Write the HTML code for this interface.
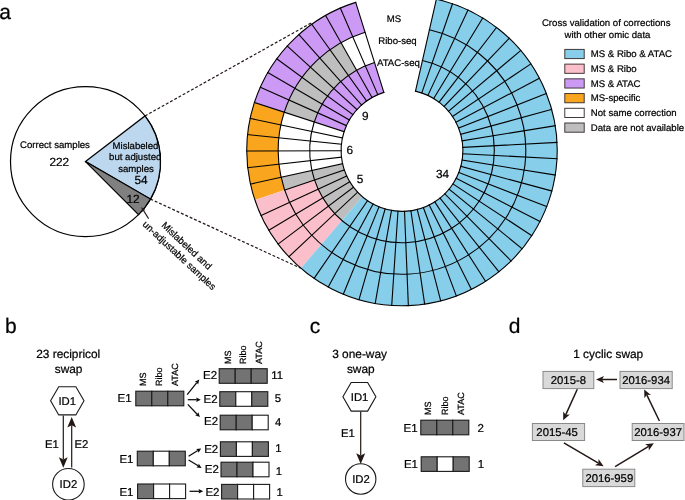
<!DOCTYPE html><html><head><meta charset="utf-8"><title>figure</title><style>html,body{margin:0;padding:0;background:#fff}svg{display:block}text{font-family:"Liberation Sans",Arial,sans-serif;fill:#000;stroke:#000;stroke-width:0.22px;text-rendering:geometricPrecision}</style></head><body>
<svg width="685" height="500" viewBox="0 0 685 500">
<rect width="685" height="500" fill="#fff"/>
<g font-size="21">
<text x="-0.8" y="19.3">a</text><text x="5.0" y="333.3">b</text><text x="309.8" y="333">c</text><text x="508.8" y="333">d</text>
</g>
<g stroke="#231815" stroke-width="1.2" stroke-dasharray="2.9 1.9" fill="none"><line x1="145.00" y1="115.94" x2="311.50" y2="22.80"/><line x1="150.45" y1="199.10" x2="300.89" y2="268.24"/></g>
<g stroke="#000" stroke-width="1.2"><circle cx="85.50" cy="161.60" r="75.00" fill="#fff"/><path d="M85.50 161.60L145.00 115.94A75.00 75.00 0 0 1 150.45 199.10Z" fill="#BDD7EE"/><path d="M85.50 161.60L150.45 199.10A75.00 75.00 0 0 1 138.53 214.63Z" fill="#808080"/></g>
<g stroke="none"><path d="M383.84 92.37L374.48 62.40A92.30 92.30 0 0 0 365.31 65.80L377.79 94.62A60.90 60.90 0 0 1 383.84 92.37Z" fill="#CC99F5"/><path d="M374.48 62.40L365.08 32.33A123.80 123.80 0 0 0 352.79 36.90L365.31 65.80A92.30 92.30 0 0 1 374.48 62.40Z" fill="#FFFFFF"/><path d="M365.08 32.33L355.72 2.36A155.20 155.20 0 0 0 340.31 8.09L352.79 36.90A123.80 123.80 0 0 1 365.08 32.33Z" fill="#CC99F5"/><path d="M377.79 94.62L365.31 65.80A92.30 92.30 0 0 0 356.56 70.16L372.02 97.49A60.90 60.90 0 0 1 377.79 94.62Z" fill="#CC99F5"/><path d="M365.31 65.80L352.79 36.90A123.80 123.80 0 0 0 341.05 42.74L356.56 70.16A92.30 92.30 0 0 1 365.31 65.80Z" fill="#FFFFFF"/><path d="M352.79 36.90L340.31 8.09A155.20 155.20 0 0 0 325.60 15.41L341.05 42.74A123.80 123.80 0 0 1 352.79 36.90Z" fill="#CC99F5"/><path d="M372.02 97.49L356.56 70.16A92.30 92.30 0 0 0 348.32 75.42L366.58 100.96A60.90 60.90 0 0 1 372.02 97.49Z" fill="#CC99F5"/><path d="M356.56 70.16L341.05 42.74A123.80 123.80 0 0 0 330.00 49.79L348.32 75.42A92.30 92.30 0 0 1 356.56 70.16Z" fill="#BEBEBE"/><path d="M341.05 42.74L325.60 15.41A155.20 155.20 0 0 0 311.74 24.25L330.00 49.79A123.80 123.80 0 0 1 341.05 42.74Z" fill="#CC99F5"/><path d="M366.58 100.96L348.32 75.42A92.30 92.30 0 0 0 340.68 81.51L361.54 104.98A60.90 60.90 0 0 1 366.58 100.96Z" fill="#CC99F5"/><path d="M348.32 75.42L330.00 49.79A123.80 123.80 0 0 0 319.75 57.97L340.68 81.51A92.30 92.30 0 0 1 348.32 75.42Z" fill="#BEBEBE"/><path d="M330.00 49.79L311.74 24.25A155.20 155.20 0 0 0 298.89 34.50L319.75 57.97A123.80 123.80 0 0 1 330.00 49.79Z" fill="#CC99F5"/><path d="M361.54 104.98L340.68 81.51A92.30 92.30 0 0 0 333.73 88.39L356.95 109.52A60.90 60.90 0 0 1 361.54 104.98Z" fill="#CC99F5"/><path d="M340.68 81.51L319.75 57.97A123.80 123.80 0 0 0 310.43 67.19L333.73 88.39A92.30 92.30 0 0 1 340.68 81.51Z" fill="#BEBEBE"/><path d="M319.75 57.97L298.89 34.50A155.20 155.20 0 0 0 287.20 46.06L310.43 67.19A123.80 123.80 0 0 1 319.75 57.97Z" fill="#CC99F5"/><path d="M356.95 109.52L333.73 88.39A92.30 92.30 0 0 0 327.54 95.95L352.87 114.51A60.90 60.90 0 0 1 356.95 109.52Z" fill="#CC99F5"/><path d="M333.73 88.39L310.43 67.19A123.80 123.80 0 0 0 302.13 77.34L327.54 95.95A92.30 92.30 0 0 1 333.73 88.39Z" fill="#BEBEBE"/><path d="M310.43 67.19L287.20 46.06A155.20 155.20 0 0 0 276.80 58.78L302.13 77.34A123.80 123.80 0 0 1 310.43 67.19Z" fill="#CC99F5"/><path d="M352.87 114.51L327.54 95.95A92.30 92.30 0 0 0 322.19 104.14L349.34 119.91A60.90 60.90 0 0 1 352.87 114.51Z" fill="#CC99F5"/><path d="M327.54 95.95L302.13 77.34A123.80 123.80 0 0 0 294.95 88.31L322.19 104.14A92.30 92.30 0 0 1 327.54 95.95Z" fill="#BEBEBE"/><path d="M302.13 77.34L276.80 58.78A155.20 155.20 0 0 0 267.80 72.54L294.95 88.31A123.80 123.80 0 0 1 302.13 77.34Z" fill="#CC99F5"/><path d="M349.34 119.91L322.19 104.14A92.30 92.30 0 0 0 317.73 112.84L346.40 125.65A60.90 60.90 0 0 1 349.34 119.91Z" fill="#CC99F5"/><path d="M322.19 104.14L294.95 88.31A123.80 123.80 0 0 0 288.98 99.98L317.73 112.84A92.30 92.30 0 0 1 322.19 104.14Z" fill="#BEBEBE"/><path d="M294.95 88.31L267.80 72.54A155.20 155.20 0 0 0 260.31 87.17L288.98 99.98A123.80 123.80 0 0 1 294.95 88.31Z" fill="#CC99F5"/><path d="M346.40 125.65L317.73 112.84A92.30 92.30 0 0 0 314.22 121.96L344.08 131.67A60.90 60.90 0 0 1 346.40 125.65Z" fill="#CC99F5"/><path d="M317.73 112.84L288.98 99.98A123.80 123.80 0 0 0 284.27 112.22L314.22 121.96A92.30 92.30 0 0 1 317.73 112.84Z" fill="#BEBEBE"/><path d="M288.98 99.98L260.31 87.17A155.20 155.20 0 0 0 254.41 102.51L284.27 112.22A123.80 123.80 0 0 1 288.98 99.98Z" fill="#CC99F5"/><path d="M344.08 131.67L314.22 121.96A92.30 92.30 0 0 0 311.70 131.40L342.42 137.90A60.90 60.90 0 0 1 344.08 131.67Z" fill="#FFFFFF"/><path d="M314.22 121.96L284.27 112.22A123.80 123.80 0 0 0 280.88 124.88L311.70 131.40A92.30 92.30 0 0 1 314.22 121.96Z" fill="#FFFFFF"/><path d="M284.27 112.22L254.41 102.51A155.20 155.20 0 0 0 250.16 118.39L280.88 124.88A123.80 123.80 0 0 1 284.27 112.22Z" fill="#F9A51E"/><path d="M342.42 137.90L311.70 131.40A92.30 92.30 0 0 0 310.18 141.06L341.42 144.27A60.90 60.90 0 0 1 342.42 137.90Z" fill="#FFFFFF"/><path d="M311.70 131.40L280.88 124.88A123.80 123.80 0 0 0 278.85 137.84L310.18 141.06A92.30 92.30 0 0 1 311.70 131.40Z" fill="#FFFFFF"/><path d="M280.88 124.88L250.16 118.39A155.20 155.20 0 0 0 247.61 134.63L278.85 137.84A123.80 123.80 0 0 1 280.88 124.88Z" fill="#F9A51E"/><path d="M341.42 144.27L310.18 141.06A92.30 92.30 0 0 0 309.70 150.82L341.10 150.71A60.90 60.90 0 0 1 341.42 144.27Z" fill="#FFFFFF"/><path d="M310.18 141.06L278.85 137.84A123.80 123.80 0 0 0 278.20 150.93L309.70 150.82A92.30 92.30 0 0 1 310.18 141.06Z" fill="#FFFFFF"/><path d="M278.85 137.84L247.61 134.63A155.20 155.20 0 0 0 246.80 151.04L278.20 150.93A123.80 123.80 0 0 1 278.85 137.84Z" fill="#F9A51E"/><path d="M341.10 150.71L309.70 150.82A92.30 92.30 0 0 0 310.27 160.70L341.47 157.23A60.90 60.90 0 0 1 341.10 150.71Z" fill="#FFFFFF"/><path d="M309.70 150.82L278.20 150.93A123.80 123.80 0 0 0 278.96 164.18L310.27 160.70A92.30 92.30 0 0 1 309.70 150.82Z" fill="#FFFFFF"/><path d="M278.20 150.93L246.80 151.04A155.20 155.20 0 0 0 247.75 167.65L278.96 164.18A123.80 123.80 0 0 1 278.20 150.93Z" fill="#F9A51E"/><path d="M341.47 157.23L310.27 160.70A92.30 92.30 0 0 0 311.88 170.46L342.54 163.67A60.90 60.90 0 0 1 341.47 157.23Z" fill="#FFFFFF"/><path d="M310.27 160.70L278.96 164.18A123.80 123.80 0 0 0 281.13 177.27L311.88 170.46A92.30 92.30 0 0 1 310.27 160.70Z" fill="#FFFFFF"/><path d="M278.96 164.18L247.75 167.65A155.20 155.20 0 0 0 250.47 184.06L281.13 177.27A123.80 123.80 0 0 1 278.96 164.18Z" fill="#F9A51E"/><path d="M342.54 163.67L311.88 170.46A92.30 92.30 0 0 0 314.54 179.99L344.29 169.95A60.90 60.90 0 0 1 342.54 163.67Z" fill="#BEBEBE"/><path d="M311.88 170.46L281.13 177.27A123.80 123.80 0 0 0 284.69 190.05L314.54 179.99A92.30 92.30 0 0 1 311.88 170.46Z" fill="#BEBEBE"/><path d="M281.13 177.27L250.47 184.06A155.20 155.20 0 0 0 254.93 200.08L284.69 190.05A123.80 123.80 0 0 1 281.13 177.27Z" fill="#F9A51E"/><path d="M344.29 169.95L314.54 179.99A92.30 92.30 0 0 0 318.19 189.18L346.70 176.02A60.90 60.90 0 0 1 344.29 169.95Z" fill="#BEBEBE"/><path d="M314.54 179.99L284.69 190.05A123.80 123.80 0 0 0 289.59 202.38L318.19 189.18A92.30 92.30 0 0 1 314.54 179.99Z" fill="#FBBFCB"/><path d="M284.69 190.05L254.93 200.08A155.20 155.20 0 0 0 261.08 215.53L289.59 202.38A123.80 123.80 0 0 1 284.69 190.05Z" fill="#FBBFCB"/><path d="M346.70 176.02L318.19 189.18A92.30 92.30 0 0 0 322.81 197.92L349.75 181.79A60.90 60.90 0 0 1 346.70 176.02Z" fill="#BEBEBE"/><path d="M318.19 189.18L289.59 202.38A123.80 123.80 0 0 0 295.79 214.11L322.81 197.92A92.30 92.30 0 0 1 318.19 189.18Z" fill="#FBBFCB"/><path d="M289.59 202.38L261.08 215.53A155.20 155.20 0 0 0 268.85 230.24L295.79 214.11A123.80 123.80 0 0 1 289.59 202.38Z" fill="#FBBFCB"/><path d="M349.75 181.79L322.81 197.92A92.30 92.30 0 0 0 328.34 206.12L353.40 187.20A60.90 60.90 0 0 1 349.75 181.79Z" fill="#BEBEBE"/><path d="M322.81 197.92L295.79 214.11A123.80 123.80 0 0 0 303.21 225.11L328.34 206.12A92.30 92.30 0 0 1 322.81 197.92Z" fill="#FBBFCB"/><path d="M295.79 214.11L268.85 230.24A155.20 155.20 0 0 0 278.15 244.03L303.21 225.11A123.80 123.80 0 0 1 295.79 214.11Z" fill="#FBBFCB"/><path d="M353.40 187.20L328.34 206.12A92.30 92.30 0 0 0 334.72 213.69L357.61 192.19A60.90 60.90 0 0 1 353.40 187.20Z" fill="#BEBEBE"/><path d="M328.34 206.12L303.21 225.11A123.80 123.80 0 0 0 311.76 235.25L334.72 213.69A92.30 92.30 0 0 1 328.34 206.12Z" fill="#FBBFCB"/><path d="M303.21 225.11L278.15 244.03A155.20 155.20 0 0 0 288.87 256.75L311.76 235.25A123.80 123.80 0 0 1 303.21 225.11Z" fill="#FBBFCB"/><path d="M357.61 192.19L334.72 213.69A92.30 92.30 0 0 0 341.87 220.52L362.32 196.70A60.90 60.90 0 0 1 357.61 192.19Z" fill="#BEBEBE"/><path d="M334.72 213.69L311.76 235.25A123.80 123.80 0 0 0 321.35 244.42L341.87 220.52A92.30 92.30 0 0 1 334.72 213.69Z" fill="#FBBFCB"/><path d="M311.76 235.25L288.87 256.75A155.20 155.20 0 0 0 300.89 268.24L321.35 244.42A123.80 123.80 0 0 1 311.76 235.25Z" fill="#FBBFCB"/><path d="M362.32 196.70L341.87 220.52A92.30 92.30 0 0 0 349.71 226.56L367.50 200.68A60.90 60.90 0 0 1 362.32 196.70Z" fill="#87CEEB"/><path d="M341.87 220.52L321.35 244.42A123.80 123.80 0 0 0 331.86 252.51L349.71 226.56A92.30 92.30 0 0 1 341.87 220.52Z" fill="#87CEEB"/><path d="M321.35 244.42L300.89 268.24A155.20 155.20 0 0 0 314.07 278.39L331.86 252.51A123.80 123.80 0 0 1 321.35 244.42Z" fill="#87CEEB"/><path d="M367.50 200.68L349.71 226.56A92.30 92.30 0 0 0 358.15 231.72L373.07 204.09A60.90 60.90 0 0 1 367.50 200.68Z" fill="#87CEEB"/><path d="M349.71 226.56L331.86 252.51A123.80 123.80 0 0 0 343.18 259.43L358.15 231.72A92.30 92.30 0 0 1 349.71 226.56Z" fill="#87CEEB"/><path d="M331.86 252.51L314.07 278.39A155.20 155.20 0 0 0 328.26 287.06L343.18 259.43A123.80 123.80 0 0 1 331.86 252.51Z" fill="#87CEEB"/><path d="M373.07 204.09L358.15 231.72A92.30 92.30 0 0 0 367.09 235.94L378.97 206.88A60.90 60.90 0 0 1 373.07 204.09Z" fill="#87CEEB"/><path d="M358.15 231.72L343.18 259.43A123.80 123.80 0 0 0 355.18 265.10L367.09 235.94A92.30 92.30 0 0 1 358.15 231.72Z" fill="#87CEEB"/><path d="M343.18 259.43L328.26 287.06A155.20 155.20 0 0 0 343.30 294.17L355.18 265.10A123.80 123.80 0 0 1 343.18 259.43Z" fill="#87CEEB"/><path d="M378.97 206.88L367.09 235.94A92.30 92.30 0 0 0 376.43 239.19L385.13 209.02A60.90 60.90 0 0 1 378.97 206.88Z" fill="#87CEEB"/><path d="M367.09 235.94L355.18 265.10A123.80 123.80 0 0 0 367.71 269.46L376.43 239.19A92.30 92.30 0 0 1 367.09 235.94Z" fill="#87CEEB"/><path d="M355.18 265.10L343.30 294.17A155.20 155.20 0 0 0 359.01 299.63L367.71 269.46A123.80 123.80 0 0 1 355.18 265.10Z" fill="#87CEEB"/><path d="M385.13 209.02L376.43 239.19A92.30 92.30 0 0 0 386.07 241.42L391.49 210.49A60.90 60.90 0 0 1 385.13 209.02Z" fill="#87CEEB"/><path d="M376.43 239.19L367.71 269.46A123.80 123.80 0 0 0 380.64 272.44L386.07 241.42A92.30 92.30 0 0 1 376.43 239.19Z" fill="#87CEEB"/><path d="M367.71 269.46L359.01 299.63A155.20 155.20 0 0 0 375.22 303.37L380.64 272.44A123.80 123.80 0 0 1 367.71 269.46Z" fill="#87CEEB"/><path d="M391.49 210.49L386.07 241.42A92.30 92.30 0 0 0 395.89 242.60L397.97 211.27A60.90 60.90 0 0 1 391.49 210.49Z" fill="#87CEEB"/><path d="M386.07 241.42L380.64 272.44A123.80 123.80 0 0 0 393.81 274.03L395.89 242.60A92.30 92.30 0 0 1 386.07 241.42Z" fill="#87CEEB"/><path d="M380.64 272.44L375.22 303.37A155.20 155.20 0 0 0 391.73 305.36L393.81 274.03A123.80 123.80 0 0 1 380.64 272.44Z" fill="#87CEEB"/><path d="M397.97 211.27L395.89 242.60A92.30 92.30 0 0 0 405.78 242.72L404.50 211.35A60.90 60.90 0 0 1 397.97 211.27Z" fill="#87CEEB"/><path d="M395.89 242.60L393.81 274.03A123.80 123.80 0 0 0 407.08 274.20L405.78 242.72A92.30 92.30 0 0 1 395.89 242.60Z" fill="#87CEEB"/><path d="M393.81 274.03L391.73 305.36A155.20 155.20 0 0 0 408.36 305.57L407.08 274.20A123.80 123.80 0 0 1 393.81 274.03Z" fill="#87CEEB"/><path d="M404.50 211.35L405.78 242.72A92.30 92.30 0 0 0 415.47 241.81L410.89 210.75A60.90 60.90 0 0 1 404.50 211.35Z" fill="#87CEEB"/><path d="M405.78 242.72L407.08 274.20A123.80 123.80 0 0 0 420.07 272.97L415.47 241.81A92.30 92.30 0 0 1 405.78 242.72Z" fill="#87CEEB"/><path d="M407.08 274.20L408.36 305.57A155.20 155.20 0 0 0 424.65 304.04L420.07 272.97A123.80 123.80 0 0 1 407.08 274.20Z" fill="#87CEEB"/><path d="M410.89 210.75L415.47 241.81A92.30 92.30 0 0 0 425.01 239.89L417.18 209.48A60.90 60.90 0 0 1 410.89 210.75Z" fill="#87CEEB"/><path d="M415.47 241.81L420.07 272.97A123.80 123.80 0 0 0 432.86 270.39L425.01 239.89A92.30 92.30 0 0 1 415.47 241.81Z" fill="#87CEEB"/><path d="M420.07 272.97L424.65 304.04A155.20 155.20 0 0 0 440.69 300.80L432.86 270.39A123.80 123.80 0 0 1 420.07 272.97Z" fill="#87CEEB"/><path d="M417.18 209.48L425.01 239.89A92.30 92.30 0 0 0 434.29 236.97L423.31 207.55A60.90 60.90 0 0 1 417.18 209.48Z" fill="#87CEEB"/><path d="M425.01 239.89L432.86 270.39A123.80 123.80 0 0 0 445.32 266.48L434.29 236.97A92.30 92.30 0 0 1 425.01 239.89Z" fill="#87CEEB"/><path d="M432.86 270.39L440.69 300.80A155.20 155.20 0 0 0 456.30 295.89L445.32 266.48A123.80 123.80 0 0 1 432.86 270.39Z" fill="#87CEEB"/><path d="M423.31 207.55L434.29 236.97A92.30 92.30 0 0 0 443.22 233.09L429.20 204.99A60.90 60.90 0 0 1 423.31 207.55Z" fill="#87CEEB"/><path d="M434.29 236.97L445.32 266.48A123.80 123.80 0 0 0 457.28 261.27L443.22 233.09A92.30 92.30 0 0 1 434.29 236.97Z" fill="#87CEEB"/><path d="M445.32 266.48L456.30 295.89A155.20 155.20 0 0 0 471.31 289.37L457.28 261.27A123.80 123.80 0 0 1 445.32 266.48Z" fill="#87CEEB"/><path d="M429.20 204.99L443.22 233.09A92.30 92.30 0 0 0 451.68 228.29L434.78 201.82A60.90 60.90 0 0 1 429.20 204.99Z" fill="#87CEEB"/><path d="M443.22 233.09L457.28 261.27A123.80 123.80 0 0 0 468.64 254.83L451.68 228.29A92.30 92.30 0 0 1 443.22 233.09Z" fill="#87CEEB"/><path d="M457.28 261.27L471.31 289.37A155.20 155.20 0 0 0 485.54 281.30L468.64 254.83A123.80 123.80 0 0 1 457.28 261.27Z" fill="#87CEEB"/><path d="M434.78 201.82L451.68 228.29A92.30 92.30 0 0 0 459.60 222.62L440.00 198.09A60.90 60.90 0 0 1 434.78 201.82Z" fill="#87CEEB"/><path d="M451.68 228.29L468.64 254.83A123.80 123.80 0 0 0 479.25 247.24L459.60 222.62A92.30 92.30 0 0 1 451.68 228.29Z" fill="#87CEEB"/><path d="M468.64 254.83L485.54 281.30A155.20 155.20 0 0 0 498.85 271.78L479.25 247.24A123.80 123.80 0 0 1 468.64 254.83Z" fill="#87CEEB"/><path d="M440.00 198.09L459.60 222.62A92.30 92.30 0 0 0 466.87 216.16L444.80 193.82A60.90 60.90 0 0 1 440.00 198.09Z" fill="#87CEEB"/><path d="M459.60 222.62L479.25 247.24A123.80 123.80 0 0 0 489.01 238.57L466.87 216.16A92.30 92.30 0 0 1 459.60 222.62Z" fill="#87CEEB"/><path d="M479.25 247.24L498.85 271.78A155.20 155.20 0 0 0 511.08 260.90L489.01 238.57A123.80 123.80 0 0 1 479.25 247.24Z" fill="#87CEEB"/><path d="M444.80 193.82L466.87 216.16A92.30 92.30 0 0 0 473.42 208.97L449.12 189.08A60.90 60.90 0 0 1 444.80 193.82Z" fill="#87CEEB"/><path d="M466.87 216.16L489.01 238.57A123.80 123.80 0 0 0 497.80 228.92L473.42 208.97A92.30 92.30 0 0 1 466.87 216.16Z" fill="#87CEEB"/><path d="M489.01 238.57L511.08 260.90A155.20 155.20 0 0 0 522.09 248.81L497.80 228.92A123.80 123.80 0 0 1 489.01 238.57Z" fill="#87CEEB"/><path d="M449.12 189.08L473.42 208.97A92.30 92.30 0 0 0 479.18 201.12L452.92 183.90A60.90 60.90 0 0 1 449.12 189.08Z" fill="#87CEEB"/><path d="M473.42 208.97L497.80 228.92A123.80 123.80 0 0 0 505.52 218.40L479.18 201.12A92.30 92.30 0 0 1 473.42 208.97Z" fill="#87CEEB"/><path d="M497.80 228.92L522.09 248.81A155.20 155.20 0 0 0 531.78 235.62L505.52 218.40A123.80 123.80 0 0 1 497.80 228.92Z" fill="#87CEEB"/><path d="M452.92 183.90L479.18 201.12A92.30 92.30 0 0 0 484.08 192.71L456.16 178.35A60.90 60.90 0 0 1 452.92 183.90Z" fill="#87CEEB"/><path d="M479.18 201.12L505.52 218.40A123.80 123.80 0 0 0 512.09 207.12L484.08 192.71A92.30 92.30 0 0 1 479.18 201.12Z" fill="#87CEEB"/><path d="M505.52 218.40L531.78 235.62A155.20 155.20 0 0 0 540.02 221.48L512.09 207.12A123.80 123.80 0 0 1 505.52 218.40Z" fill="#87CEEB"/><path d="M456.16 178.35L484.08 192.71A92.30 92.30 0 0 0 488.07 183.84L458.79 172.50A60.90 60.90 0 0 1 456.16 178.35Z" fill="#87CEEB"/><path d="M484.08 192.71L512.09 207.12A123.80 123.80 0 0 0 517.44 195.22L488.07 183.84A92.30 92.30 0 0 1 484.08 192.71Z" fill="#87CEEB"/><path d="M512.09 207.12L540.02 221.48A155.20 155.20 0 0 0 546.72 206.56L517.44 195.22A123.80 123.80 0 0 1 512.09 207.12Z" fill="#87CEEB"/><path d="M458.79 172.50L488.07 183.84A92.30 92.30 0 0 0 491.10 174.59L460.79 166.40A60.90 60.90 0 0 1 458.79 172.50Z" fill="#87CEEB"/><path d="M488.07 183.84L517.44 195.22A123.80 123.80 0 0 0 521.51 182.81L491.10 174.59A92.30 92.30 0 0 1 488.07 183.84Z" fill="#87CEEB"/><path d="M517.44 195.22L546.72 206.56A155.20 155.20 0 0 0 551.82 191.01L521.51 182.81A123.80 123.80 0 0 1 517.44 195.22Z" fill="#87CEEB"/><path d="M460.79 166.40L491.10 174.59A92.30 92.30 0 0 0 493.14 165.08L462.14 160.12A60.90 60.90 0 0 1 460.79 166.40Z" fill="#87CEEB"/><path d="M491.10 174.59L521.51 182.81A123.80 123.80 0 0 0 524.25 170.05L493.14 165.08A92.30 92.30 0 0 1 491.10 174.59Z" fill="#87CEEB"/><path d="M521.51 182.81L551.82 191.01A155.20 155.20 0 0 0 555.25 175.01L524.25 170.05A123.80 123.80 0 0 1 521.51 182.81Z" fill="#87CEEB"/><path d="M462.14 160.12L493.14 165.08A92.30 92.30 0 0 0 494.17 155.40L462.81 153.73A60.90 60.90 0 0 1 462.14 160.12Z" fill="#87CEEB"/><path d="M493.14 165.08L524.25 170.05A123.80 123.80 0 0 0 525.63 157.07L494.17 155.40A92.30 92.30 0 0 1 493.14 165.08Z" fill="#87CEEB"/><path d="M524.25 170.05L555.25 175.01A155.20 155.20 0 0 0 556.98 158.74L525.63 157.07A123.80 123.80 0 0 1 524.25 170.05Z" fill="#87CEEB"/><path d="M462.81 153.73L494.17 155.40A92.30 92.30 0 0 0 494.17 145.67L462.82 147.31A60.90 60.90 0 0 1 462.81 153.73Z" fill="#87CEEB"/><path d="M494.17 155.40L525.63 157.07A123.80 123.80 0 0 0 525.63 144.02L494.17 145.67A92.30 92.30 0 0 1 494.17 155.40Z" fill="#87CEEB"/><path d="M525.63 157.07L556.98 158.74A155.20 155.20 0 0 0 556.99 142.38L525.63 144.02A123.80 123.80 0 0 1 525.63 157.07Z" fill="#87CEEB"/><path d="M462.82 147.31L494.17 145.67A92.30 92.30 0 0 0 493.12 135.77L462.12 140.78A60.90 60.90 0 0 1 462.82 147.31Z" fill="#87CEEB"/><path d="M494.17 145.67L525.63 144.02A123.80 123.80 0 0 0 524.21 130.74L493.12 135.77A92.30 92.30 0 0 1 494.17 145.67Z" fill="#87CEEB"/><path d="M525.63 144.02L556.99 142.38A155.20 155.20 0 0 0 555.21 125.73L524.21 130.74A123.80 123.80 0 0 1 525.63 144.02Z" fill="#87CEEB"/><path d="M462.12 140.78L493.12 135.77A92.30 92.30 0 0 0 491.00 126.04L460.72 134.36A60.90 60.90 0 0 1 462.12 140.78Z" fill="#87CEEB"/><path d="M493.12 135.77L524.21 130.74A123.80 123.80 0 0 0 521.37 117.69L491.00 126.04A92.30 92.30 0 0 1 493.12 135.77Z" fill="#87CEEB"/><path d="M524.21 130.74L555.21 125.73A155.20 155.20 0 0 0 551.65 109.37L521.37 117.69A123.80 123.80 0 0 1 524.21 130.74Z" fill="#87CEEB"/><path d="M460.72 134.36L491.00 126.04A92.30 92.30 0 0 0 487.85 116.60L458.64 128.13A60.90 60.90 0 0 1 460.72 134.36Z" fill="#87CEEB"/><path d="M491.00 126.04L521.37 117.69A123.80 123.80 0 0 0 517.15 105.03L487.85 116.60A92.30 92.30 0 0 1 491.00 126.04Z" fill="#87CEEB"/><path d="M521.37 117.69L551.65 109.37A155.20 155.20 0 0 0 546.35 93.49L517.15 105.03A123.80 123.80 0 0 1 521.37 117.69Z" fill="#87CEEB"/><path d="M458.64 128.13L487.85 116.60A92.30 92.30 0 0 0 483.70 107.55L455.90 122.16A60.90 60.90 0 0 1 458.64 128.13Z" fill="#87CEEB"/><path d="M487.85 116.60L517.15 105.03A123.80 123.80 0 0 0 511.58 92.89L483.70 107.55A92.30 92.30 0 0 1 487.85 116.60Z" fill="#87CEEB"/><path d="M517.15 105.03L546.35 93.49A155.20 155.20 0 0 0 539.37 78.28L511.58 92.89A123.80 123.80 0 0 1 517.15 105.03Z" fill="#87CEEB"/><path d="M455.90 122.16L483.70 107.55A92.30 92.30 0 0 0 478.60 99.00L452.54 116.52A60.90 60.90 0 0 1 455.90 122.16Z" fill="#87CEEB"/><path d="M483.70 107.55L511.58 92.89A123.80 123.80 0 0 0 504.74 81.42L478.60 99.00A92.30 92.30 0 0 1 483.70 107.55Z" fill="#87CEEB"/><path d="M511.58 92.89L539.37 78.28A155.20 155.20 0 0 0 530.79 63.90L504.74 81.42A123.80 123.80 0 0 1 511.58 92.89Z" fill="#87CEEB"/><path d="M452.54 116.52L478.60 99.00A92.30 92.30 0 0 0 472.60 91.05L448.58 111.27A60.90 60.90 0 0 1 452.54 116.52Z" fill="#87CEEB"/><path d="M478.60 99.00L504.74 81.42A123.80 123.80 0 0 0 496.70 70.76L472.60 91.05A92.30 92.30 0 0 1 478.60 99.00Z" fill="#87CEEB"/><path d="M504.74 81.42L530.79 63.90A155.20 155.20 0 0 0 520.72 50.53L496.70 70.76A123.80 123.80 0 0 1 504.74 81.42Z" fill="#87CEEB"/><path d="M448.58 111.27L472.60 91.05A92.30 92.30 0 0 0 465.79 83.79L444.09 106.48A60.90 60.90 0 0 1 448.58 111.27Z" fill="#87CEEB"/><path d="M472.60 91.05L496.70 70.76A123.80 123.80 0 0 0 487.56 61.02L465.79 83.79A92.30 92.30 0 0 1 472.60 91.05Z" fill="#87CEEB"/><path d="M496.70 70.76L520.72 50.53A155.20 155.20 0 0 0 509.26 38.33L487.56 61.02A123.80 123.80 0 0 1 496.70 70.76Z" fill="#87CEEB"/><path d="M444.09 106.48L465.79 83.79A92.30 92.30 0 0 0 458.23 77.31L439.10 102.21A60.90 60.90 0 0 1 444.09 106.48Z" fill="#87CEEB"/><path d="M465.79 83.79L487.56 61.02A123.80 123.80 0 0 0 477.42 52.33L458.23 77.31A92.30 92.30 0 0 1 465.79 83.79Z" fill="#87CEEB"/><path d="M487.56 61.02L509.26 38.33A155.20 155.20 0 0 0 496.55 27.43L477.42 52.33A123.80 123.80 0 0 1 487.56 61.02Z" fill="#87CEEB"/><path d="M439.10 102.21L458.23 77.31A92.30 92.30 0 0 0 450.02 71.68L433.68 98.49A60.90 60.90 0 0 1 439.10 102.21Z" fill="#87CEEB"/><path d="M458.23 77.31L477.42 52.33A123.80 123.80 0 0 0 466.41 44.77L450.02 71.68A92.30 92.30 0 0 1 458.23 77.31Z" fill="#87CEEB"/><path d="M477.42 52.33L496.55 27.43A155.20 155.20 0 0 0 482.75 17.96L466.41 44.77A123.80 123.80 0 0 1 477.42 52.33Z" fill="#87CEEB"/><path d="M433.68 98.49L450.02 71.68A92.30 92.30 0 0 0 441.25 66.96L427.90 95.38A60.90 60.90 0 0 1 433.68 98.49Z" fill="#87CEEB"/><path d="M450.02 71.68L466.41 44.77A123.80 123.80 0 0 0 454.65 38.45L441.25 66.96A92.30 92.30 0 0 1 450.02 71.68Z" fill="#87CEEB"/><path d="M466.41 44.77L482.75 17.96A155.20 155.20 0 0 0 468.00 10.03L454.65 38.45A123.80 123.80 0 0 1 466.41 44.77Z" fill="#87CEEB"/><path d="M427.90 95.38L441.25 66.96A92.30 92.30 0 0 0 432.02 63.22L421.81 92.91A60.90 60.90 0 0 1 427.90 95.38Z" fill="#87CEEB"/><path d="M441.25 66.96L454.65 38.45A123.80 123.80 0 0 0 442.27 33.43L432.02 63.22A92.30 92.30 0 0 1 441.25 66.96Z" fill="#87CEEB"/><path d="M454.65 38.45L468.00 10.03A155.20 155.20 0 0 0 452.49 3.74L442.27 33.43A123.80 123.80 0 0 1 454.65 38.45Z" fill="#87CEEB"/><path d="M421.81 92.91L432.02 63.22A92.30 92.30 0 0 0 422.45 60.49L415.49 91.11A60.90 60.90 0 0 1 421.81 92.91Z" fill="#87CEEB"/><path d="M432.02 63.22L442.27 33.43A123.80 123.80 0 0 0 429.43 29.78L422.45 60.49A92.30 92.30 0 0 1 432.02 63.22Z" fill="#87CEEB"/><path d="M442.27 33.43L452.49 3.74A155.20 155.20 0 0 0 436.38 -0.84L429.43 29.78A123.80 123.80 0 0 1 442.27 33.43Z" fill="#87CEEB"/></g><g stroke="#000" stroke-width="1.1" fill="none" stroke-linecap="square"><path d="M383.84 92.37A60.90 60.90 0 1 0 415.49 91.11"/><path d="M374.48 62.40A92.30 92.30 0 1 0 422.45 60.49"/><path d="M365.08 32.33A123.80 123.80 0 1 0 429.43 29.78"/><path d="M355.72 2.36A155.20 155.20 0 1 0 436.38 -0.84"/><path d="M383.84 92.37L355.72 2.36"/><path d="M377.79 94.62L340.31 8.09"/><path d="M372.02 97.49L325.60 15.41"/><path d="M366.58 100.96L311.74 24.25"/><path d="M361.54 104.98L298.89 34.50"/><path d="M356.95 109.52L287.20 46.06"/><path d="M352.87 114.51L276.80 58.78"/><path d="M349.34 119.91L267.80 72.54"/><path d="M346.40 125.65L260.31 87.17"/><path d="M344.08 131.67L254.41 102.51"/><path d="M342.42 137.90L250.16 118.39"/><path d="M341.42 144.27L247.61 134.63"/><path d="M341.10 150.71L246.80 151.04"/><path d="M341.47 157.23L247.75 167.65"/><path d="M342.54 163.67L250.47 184.06"/><path d="M344.29 169.95L284.69 190.05"/><path d="M346.70 176.02L261.08 215.53"/><path d="M349.75 181.79L268.85 230.24"/><path d="M353.40 187.20L278.15 244.03"/><path d="M357.61 192.19L288.87 256.75"/><path d="M367.50 200.68L314.07 278.39"/><path d="M373.07 204.09L328.26 287.06"/><path d="M378.97 206.88L343.30 294.17"/><path d="M385.13 209.02L359.01 299.63"/><path d="M391.49 210.49L375.22 303.37"/><path d="M397.97 211.27L391.73 305.36"/><path d="M404.50 211.35L408.36 305.57"/><path d="M410.89 210.75L424.65 304.04"/><path d="M417.18 209.48L440.69 300.80"/><path d="M423.31 207.55L456.30 295.89"/><path d="M429.20 204.99L471.31 289.37"/><path d="M434.78 201.82L485.54 281.30"/><path d="M440.00 198.09L498.85 271.78"/><path d="M444.80 193.82L511.08 260.90"/><path d="M449.12 189.08L522.09 248.81"/><path d="M452.92 183.90L531.78 235.62"/><path d="M456.16 178.35L540.02 221.48"/><path d="M458.79 172.50L546.72 206.56"/><path d="M460.79 166.40L551.82 191.01"/><path d="M462.14 160.12L555.25 175.01"/><path d="M462.81 153.73L556.98 158.74"/><path d="M462.82 147.31L556.99 142.38"/><path d="M462.12 140.78L555.21 125.73"/><path d="M460.72 134.36L551.65 109.37"/><path d="M458.64 128.13L546.35 93.49"/><path d="M455.90 122.16L539.37 78.28"/><path d="M452.54 116.52L530.79 63.90"/><path d="M448.58 111.27L520.72 50.53"/><path d="M444.09 106.48L509.26 38.33"/><path d="M439.10 102.21L496.55 27.43"/><path d="M433.68 98.49L482.75 17.96"/><path d="M427.90 95.38L468.00 10.03"/><path d="M421.81 92.91L452.49 3.74"/><path d="M415.49 91.11L436.38 -0.84"/></g>
<g font-size="9.6">
<text x="55" y="147.9" text-anchor="middle">Correct samples</text>
<text x="135.5" y="148.8" text-anchor="middle">Mislabeled</text>
<text x="135.2" y="160.3" text-anchor="middle">but adjusted</text>
<text x="136" y="171.5" text-anchor="middle">samples</text>
</g>
<g font-size="11.8">
<text x="59.3" y="166" text-anchor="middle">222</text>
<text x="141" y="183.5" text-anchor="middle">54</text>
<text x="133" y="203" text-anchor="middle">12</text>
</g>
<g font-size="9.6" transform="translate(160.9 226.1) rotate(43)"><text x="0" y="0">Mislabeled and</text><text x="-14.5" y="12.1">un-adjustable samples</text></g>
<line x1="148.60" y1="218.60" x2="143.27" y2="210.13" stroke="#231815" stroke-width="1.10"/><path d="M141.30 207.00L145.57 210.22L143.27 210.13L142.36 212.24Z" fill="#231815"/>
<g font-size="9.6" text-anchor="middle">
<text x="394" y="22">MS</text><text x="397.5" y="43.6">Ribo-seq</text><text x="398.4" y="66.4">ATAC-seq</text></g>
<g font-size="11.8" text-anchor="middle">
<text x="365.2" y="119.5">9</text><text x="349.8" y="154.0">6</text><text x="360" y="183.0">5</text><text x="442.6" y="178">34</text></g>
<g font-size="9.6"><text x="606.2" y="26" text-anchor="middle">Cross validation of corrections</text><text x="607.5" y="37.7" text-anchor="middle">with other omic data</text>
<rect x="564.8" y="49.40" width="19.4" height="9.2" fill="#87CEEB" stroke="#3b3030" stroke-width="0.95"/>
<text x="590.8" y="57.30">MS &amp; Ribo &amp; ATAC</text>
<rect x="564.8" y="64.12" width="19.4" height="9.2" fill="#FBBFCB" stroke="#3b3030" stroke-width="0.95"/>
<text x="590.8" y="72.02">MS &amp; Ribo</text>
<rect x="564.8" y="78.84" width="19.4" height="9.2" fill="#CC99F5" stroke="#3b3030" stroke-width="0.95"/>
<text x="590.8" y="86.74">MS &amp; ATAC</text>
<rect x="564.8" y="93.56" width="19.4" height="9.2" fill="#F9A51E" stroke="#3b3030" stroke-width="0.95"/>
<text x="590.8" y="101.46">MS-specific</text>
<rect x="564.8" y="108.28" width="19.4" height="9.2" fill="#FFFFFF" stroke="#3b3030" stroke-width="0.95"/>
<text x="590.8" y="116.18">Not same correction</text>
<rect x="564.8" y="123.00" width="19.4" height="9.2" fill="#BEBEBE" stroke="#3b3030" stroke-width="0.95"/>
<text x="590.8" y="130.90">Data are not available</text>
</g>
<g font-size="11.9" text-anchor="middle"><text x="68.2" y="357.8">23 recipricol</text><text x="68.6" y="372.8">swap</text></g>
<polygon points="50.60,400.80 58.74,386.70 75.86,386.70 84.00,400.80 75.86,414.90 58.74,414.90" fill="#fff" stroke="#1a1a1a" stroke-width="1.1"/>
<circle cx="68.4" cy="484.3" r="15.8" fill="#fff" stroke="#1a1a1a" stroke-width="1.1"/>
<g font-size="11.3" text-anchor="middle"><text x="67.2" y="404.9">ID1</text><text x="68.4" y="488.4">ID2</text><text x="52" y="447.6">E1</text><text x="81.4" y="447.6">E2</text></g>
<line x1="63.30" y1="415.40" x2="63.30" y2="459.60" stroke="#231815" stroke-width="1.20"/><path d="M63.30 467.80L58.90 457.20L63.30 459.60L67.70 457.20Z" fill="#231815"/>
<line x1="71.70" y1="467.40" x2="71.70" y2="425.20" stroke="#231815" stroke-width="1.20"/><path d="M71.70 417.00L76.10 427.60L71.70 425.20L67.30 427.60Z" fill="#231815"/>
<g stroke="#1a1a1a" stroke-width="1.1"><rect x="135.80" y="391.20" width="16.00" height="14.60" fill="#737373"/><rect x="151.80" y="391.20" width="16.00" height="14.60" fill="#737373"/><rect x="167.80" y="391.20" width="16.00" height="14.60" fill="#737373"/></g>
<g stroke="#1a1a1a" stroke-width="1.1"><rect x="137.30" y="451.20" width="16.00" height="14.60" fill="#737373"/><rect x="153.30" y="451.20" width="16.00" height="14.60" fill="#fff"/><rect x="169.30" y="451.20" width="16.00" height="14.60" fill="#737373"/></g>
<g stroke="#1a1a1a" stroke-width="1.1"><rect x="137.60" y="484.00" width="16.00" height="14.60" fill="#737373"/><rect x="153.60" y="484.00" width="16.00" height="14.60" fill="#fff"/><rect x="169.60" y="484.00" width="16.00" height="14.60" fill="#fff"/></g>
<text transform="translate(146.00 386.00) rotate(-90)" font-size="9">MS</text><text transform="translate(162.00 386.00) rotate(-90)" font-size="9">Ribo</text><text transform="translate(178.00 386.00) rotate(-90)" font-size="9">ATAC</text>
<g font-size="11.5"><text x="117.6" y="402.4">E1</text><text x="119.4" y="463">E1</text><text x="119.4" y="496.3">E1</text></g>
<g stroke="#1a1a1a" stroke-width="1.1"><rect x="219.20" y="368.70" width="16.00" height="14.60" fill="#737373"/><rect x="235.20" y="368.70" width="16.00" height="14.60" fill="#737373"/><rect x="251.20" y="368.70" width="16.00" height="14.60" fill="#737373"/></g>
<text font-size="11.5" x="203.00" y="379.40">E2</text>
<text font-size="11.3" x="277.20" y="379.00" text-anchor="middle">11</text>
<g stroke="#1a1a1a" stroke-width="1.1"><rect x="219.80" y="391.70" width="16.00" height="14.60" fill="#737373"/><rect x="235.80" y="391.70" width="16.00" height="14.60" fill="#fff"/><rect x="251.80" y="391.70" width="16.00" height="14.60" fill="#737373"/></g>
<text font-size="11.5" x="203.60" y="403.00">E2</text>
<text font-size="11.3" x="277.80" y="402.20" text-anchor="middle">5</text>
<g stroke="#1a1a1a" stroke-width="1.1"><rect x="220.20" y="415.20" width="16.00" height="14.60" fill="#737373"/><rect x="236.20" y="415.20" width="16.00" height="14.60" fill="#737373"/><rect x="252.20" y="415.20" width="16.00" height="14.60" fill="#fff"/></g>
<text font-size="11.5" x="204.00" y="425.30">E2</text>
<text font-size="11.3" x="278.20" y="425.80" text-anchor="middle">4</text>
<g stroke="#1a1a1a" stroke-width="1.1"><rect x="220.40" y="441.80" width="16.00" height="14.60" fill="#737373"/><rect x="236.40" y="441.80" width="16.00" height="14.60" fill="#fff"/><rect x="252.40" y="441.80" width="16.00" height="14.60" fill="#737373"/></g>
<text font-size="11.5" x="204.20" y="452.70">E2</text>
<text font-size="11.3" x="278.40" y="452.00" text-anchor="middle">1</text>
<g stroke="#1a1a1a" stroke-width="1.1"><rect x="221.00" y="462.20" width="16.00" height="14.60" fill="#737373"/><rect x="237.00" y="462.20" width="16.00" height="14.60" fill="#737373"/><rect x="253.00" y="462.20" width="16.00" height="14.60" fill="#fff"/></g>
<text font-size="11.5" x="204.80" y="472.70">E2</text>
<text font-size="11.3" x="279.00" y="474.60" text-anchor="middle">1</text>
<g stroke="#1a1a1a" stroke-width="1.1"><rect x="221.60" y="484.40" width="16.00" height="14.60" fill="#737373"/><rect x="237.60" y="484.40" width="16.00" height="14.60" fill="#fff"/><rect x="253.60" y="484.40" width="16.00" height="14.60" fill="#fff"/></g>
<text font-size="11.5" x="205.40" y="496.30">E2</text>
<text font-size="11.3" x="279.60" y="496.00" text-anchor="middle">1</text>
<text transform="translate(230.60 364.00) rotate(-90)" font-size="9">MS</text><text transform="translate(246.00 364.00) rotate(-90)" font-size="9">Ribo</text><text transform="translate(261.60 364.00) rotate(-90)" font-size="9">ATAC</text>
<line x1="187.20" y1="394.60" x2="196.80" y2="382.62" stroke="#0a0a0a" stroke-width="1.25"/><path d="M199.30 379.50L198.14 384.47L196.80 382.62L194.71 381.71Z" fill="#0a0a0a"/>
<line x1="187.80" y1="399.70" x2="196.80" y2="399.70" stroke="#0a0a0a" stroke-width="1.25"/><path d="M200.80 399.70L196.20 401.90L196.80 399.70L196.20 397.50Z" fill="#0a0a0a"/>
<line x1="187.80" y1="404.40" x2="197.14" y2="414.20" stroke="#0a0a0a" stroke-width="1.25"/><path d="M199.90 417.10L195.13 415.29L197.14 414.20L198.32 412.25Z" fill="#0a0a0a"/>
<line x1="188.60" y1="456.20" x2="197.80" y2="450.51" stroke="#0a0a0a" stroke-width="1.25"/><path d="M201.20 448.40L198.45 452.69L197.80 450.51L196.13 448.95Z" fill="#0a0a0a"/>
<line x1="188.60" y1="460.00" x2="198.18" y2="465.82" stroke="#0a0a0a" stroke-width="1.25"/><path d="M201.60 467.90L196.53 467.39L198.18 465.82L198.81 463.63Z" fill="#0a0a0a"/>
<line x1="189.60" y1="491.30" x2="199.20" y2="491.30" stroke="#0a0a0a" stroke-width="1.25"/><path d="M203.20 491.30L198.60 493.50L199.20 491.30L198.60 489.10Z" fill="#0a0a0a"/>
<g font-size="11.9" text-anchor="middle"><text x="359.6" y="357.8">3 one-way</text><text x="360.8" y="372.8">swap</text></g>
<polygon points="342.90,396.80 351.16,382.50 367.64,382.50 375.90,396.80 367.64,411.10 351.16,411.10" fill="#fff" stroke="#1a1a1a" stroke-width="1.1"/>
<circle cx="360.7" cy="479" r="15.2" fill="#fff" stroke="#1a1a1a" stroke-width="1.1"/>
<g font-size="11.3" text-anchor="middle"><text x="359.6" y="400.9">ID1</text><text x="361" y="483.2">ID2</text><text x="348" y="436.8">E1</text></g>
<line x1="360.70" y1="411.40" x2="360.70" y2="455.60" stroke="#231815" stroke-width="1.20"/><path d="M360.70 464.00L356.20 453.20L360.70 455.60L365.20 453.20Z" fill="#231815"/>
<g stroke="#1a1a1a" stroke-width="1.1"><rect x="420.80" y="420.20" width="16.00" height="14.60" fill="#737373"/><rect x="436.80" y="420.20" width="16.00" height="14.60" fill="#737373"/><rect x="452.80" y="420.20" width="16.00" height="14.60" fill="#737373"/></g>
<g stroke="#1a1a1a" stroke-width="1.1"><rect x="421.20" y="456.80" width="16.00" height="14.60" fill="#737373"/><rect x="437.20" y="456.80" width="16.00" height="14.60" fill="#fff"/><rect x="453.20" y="456.80" width="16.00" height="14.60" fill="#737373"/></g>
<text transform="translate(431.40 415.00) rotate(-90)" font-size="9">MS</text><text transform="translate(448.00 415.00) rotate(-90)" font-size="9">Ribo</text><text transform="translate(463.60 415.00) rotate(-90)" font-size="9">ATAC</text>
<g font-size="11.5"><text x="403.5" y="431.6">E1</text><text x="403.9" y="468.4">E1</text><text x="477.5" y="431.6">2</text><text x="477.7" y="468.4">1</text></g>
<text font-size="11.9" x="608.2" y="358.4" text-anchor="middle">1 cyclic swap</text>
<rect x="543.00" y="371.40" width="50.80" height="17.20" fill="#D9D9D9" stroke="#8a8a8a" stroke-width="1"/><text x="568.40" y="384.00" text-anchor="middle" font-size="11.3" stroke-width="0.08">2015-8</text>
<rect x="620.00" y="371.40" width="52.20" height="17.20" fill="#D9D9D9" stroke="#8a8a8a" stroke-width="1"/><text x="646.10" y="384.00" text-anchor="middle" font-size="11.3" stroke-width="0.08">2016-934</text>
<rect x="532.40" y="423.50" width="52.20" height="17.00" fill="#D9D9D9" stroke="#8a8a8a" stroke-width="1"/><text x="557.10" y="436.00" text-anchor="middle" font-size="11.3" stroke-width="0.08">2015-45</text>
<rect x="632.20" y="423.50" width="51.80" height="17.00" fill="#D9D9D9" stroke="#8a8a8a" stroke-width="1"/><text x="658.10" y="436.00" text-anchor="middle" font-size="11.3" stroke-width="0.08">2016-937</text>
<rect x="582.80" y="469.20" width="52.00" height="17.40" fill="#D9D9D9" stroke="#8a8a8a" stroke-width="1"/><text x="609.30" y="481.90" text-anchor="middle" font-size="11.3" stroke-width="0.08">2016-959</text>
<line x1="617.00" y1="379.50" x2="602.00" y2="379.50" stroke="#231815" stroke-width="1.50"/><path d="M596.00 379.50L604.00 375.90L602.00 379.50L604.00 383.10Z" fill="#231815"/>
<line x1="577.30" y1="389.20" x2="565.68" y2="414.84" stroke="#231815" stroke-width="1.50"/><path d="M563.20 420.30L563.22 411.53L565.68 414.84L569.78 414.50Z" fill="#231815"/>
<line x1="563.90" y1="442.90" x2="598.43" y2="463.16" stroke="#231815" stroke-width="1.50"/><path d="M603.60 466.20L594.88 465.26L598.43 463.16L598.52 459.05Z" fill="#231815"/>
<line x1="615.10" y1="466.60" x2="648.67" y2="446.30" stroke="#231815" stroke-width="1.50"/><path d="M653.80 443.20L648.82 450.42L648.67 446.30L645.09 444.26Z" fill="#231815"/>
<line x1="659.40" y1="421.00" x2="646.80" y2="394.81" stroke="#231815" stroke-width="1.50"/><path d="M644.20 389.40L650.91 395.05L646.80 394.81L644.42 398.17Z" fill="#231815"/>
</svg></body></html>
